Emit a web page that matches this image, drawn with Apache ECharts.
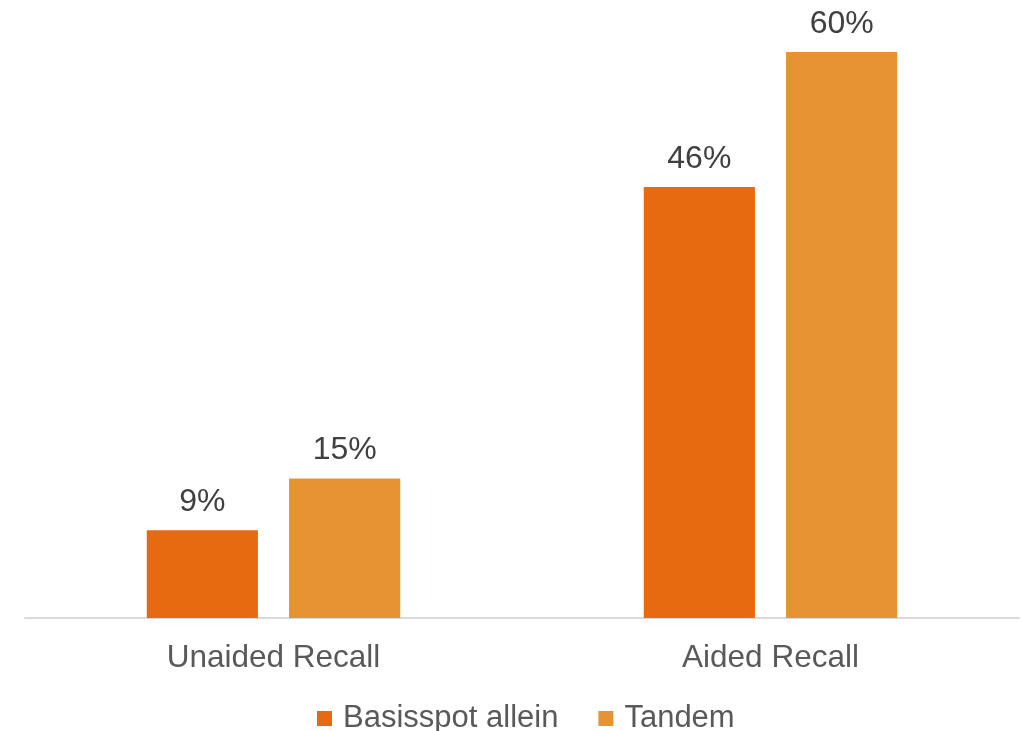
<!DOCTYPE html>
<html>
<head>
<meta charset="utf-8">
<script src="https://cdn.jsdelivr.net/npm/echarts@6/dist/echarts.min.js"></script>
<style>html,body{margin:0;padding:0;background:#fff}#c{width:1023px;height:731px}</style>
</head>
<body>
<div id="c"></div>
<script>
const categories = ['Unaided Recall', 'Aided Recall'];
const seriesNames = ['Basisspot allein', 'Tandem'];
const basisspot = [9.3, 45.7];
const tandem = [14.8, 60];
const labelsBasis = ['9%', '46%'];
const labelsTandem = ['15%', '60%'];

const chart = echarts.init(document.getElementById('c'));
const font = '"Liberation Sans", Arial, sans-serif';
function lab(arr){ return p => arr[p.dataIndex]; }
chart.setOption({
  animation: false,
  grid: {left: 25, right: 4, top: 52, bottom: 113},
  legend: {
    left: 312, top: 698, itemWidth: 15, itemHeight: 15, itemGap: 40,
    icon: 'rect',
    textStyle: {fontFamily: font, fontSize: 31, color: '#595959', padding: [0,0,0,6]},
    data: seriesNames
  },
  xAxis: {
    type: 'category', data: categories,
    axisLine: {lineStyle: {color: '#d9d9d9', width: 2}},
    axisTick: {show: false},
    axisLabel: {fontFamily: font, fontSize: 31.5, color: '#595959', margin: 24}
  },
  yAxis: {type: 'value', min: 0, max: 60, show: false, splitLine: {show: false}},
  series: [
    {name: seriesNames[0], type: 'bar', data: basisspot, barGap: '28%', barCategoryGap: '49%',
     itemStyle: {color: '#E86A10'},
     label: {show: true, position: 'top', distance: 12, formatter: lab(labelsBasis), fontFamily: font, fontSize: 32, color: '#404040'}},
    {name: seriesNames[1], type: 'bar', data: tandem, barGap: '28%', barCategoryGap: '49%',
     itemStyle: {color: '#E69333'},
     label: {show: true, position: 'top', distance: 12, formatter: lab(labelsTandem), fontFamily: font, fontSize: 32, color: '#404040'}}
  ]
});
</script>
</body>
</html>
